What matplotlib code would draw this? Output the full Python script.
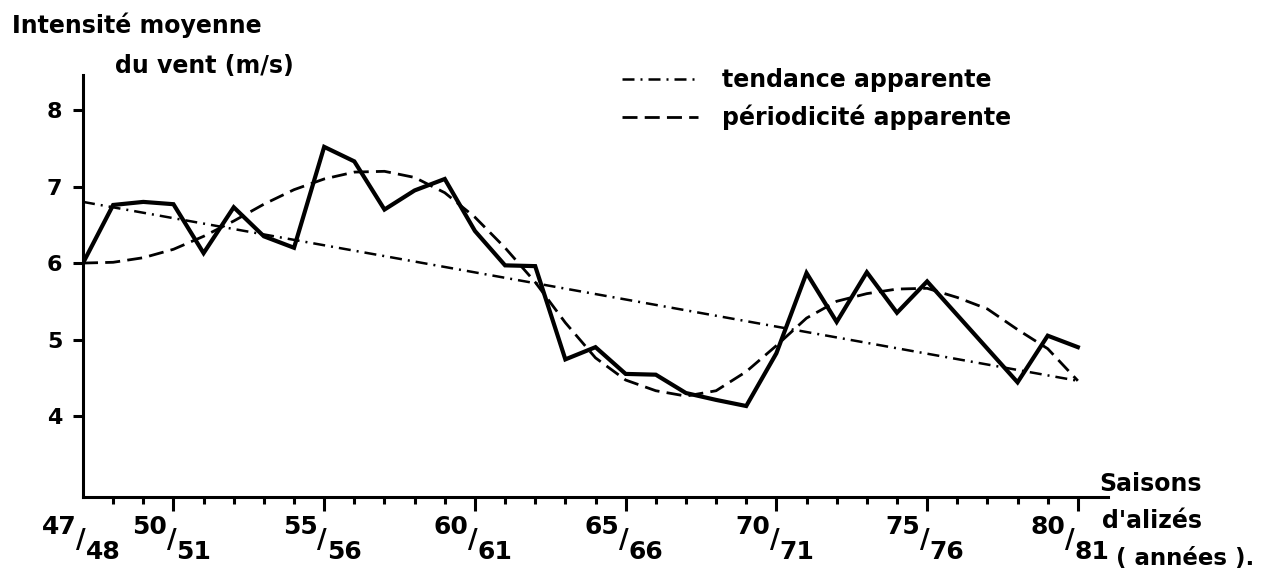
import matplotlib.pyplot as plt
from matplotlib.ticker import FixedLocator

plt.rcParams['font.family'] = 'DejaVu Sans'
plt.rcParams['font.weight'] = 'bold'

# Saisons d'alizés 1947/48 -> 1980/81
saisons = [f"{a % 100}/{(a + 1) % 100}" for a in range(1947, 1981)]

vent = [6.00, 6.76, 6.80, 6.77, 6.13, 6.73, 6.35, 6.20, 7.52, 7.33,
        6.70, 6.95, 7.10, 6.42, 5.97, 5.96, 4.74, 4.90, 4.55, 4.54,
        4.30, 4.21, 4.13, 4.82, 5.87, 5.23, 5.88, 5.35, 5.76, 5.32,
        4.88, 4.44, 5.05, 4.90]

# périodicité apparente (courbe tiretée)
periodicite = [6.00, 6.01, 6.07, 6.18, 6.35, 6.55, 6.77, 6.96, 7.10, 7.19,
               7.20, 7.12, 6.92, 6.60, 6.20, 5.75, 5.22, 4.76, 4.47, 4.33,
               4.26, 4.33, 4.58, 4.92, 5.28, 5.50, 5.60, 5.66, 5.67, 5.55,
               5.40, 5.13, 4.88, 4.46]

# tendance apparente (droite mixte)
tendance_x = [0, 33]
tendance = [6.80, 4.46]

yticks = [4, 5, 6, 7, 8]
labelled = ['47/48', '50/51', '55/56', '60/61', '65/66', '70/71', '75/76', '80/81']

x = list(range(len(saisons)))

fig = plt.figure(figsize=(12.68, 5.82), dpi=100)
ax = fig.add_axes([83 / 1268, 85 / 582, 1025 / 1268, 422 / 582])

ax.plot(x, vent, color='black', lw=3.0, solid_joinstyle='miter')
l_tend, = ax.plot(tendance_x, tendance, color='black', lw=1.8,
                  linestyle=(0, (4.8, 2.4, 0.8, 2.4)))
l_per, = ax.plot(x, periodicite, color='black', lw=2.0,
                 linestyle=(0, (5.4, 2.6)))

ax.set_xlim(0, 34)
ax.set_ylim(2.94, 8.46)

for s in ['top', 'right']:
    ax.spines[s].set_visible(False)
for s in ['left', 'bottom']:
    ax.spines[s].set_linewidth(2.2)

ax.set_yticks(yticks)
ax.set_yticklabels([str(v) for v in yticks], fontsize=16, fontweight='bold')
ax.tick_params(axis='y', direction='out', length=7, width=2.2, pad=8)

major = [saisons.index(l) for l in labelled]
minor = [i for i in x if i not in major and i != 0]
ax.xaxis.set_major_locator(FixedLocator([m for m in major if m != 0]))
ax.xaxis.set_minor_locator(FixedLocator(minor))
ax.set_xticklabels([])
ax.tick_params(axis='x', which='major', direction='out', length=10, width=2.2)
ax.tick_params(axis='x', which='minor', direction='out', length=5, width=2.2)

# étiquettes en fraction : 47/48 -> numérateur haut, dénominateur bas
tr = ax.get_xaxis_transform()
for lab in labelled:
    i = saisons.index(lab)
    num, den = lab.split('/')
    shift = -6 if lab == '80/81' else 0
    ax.annotate(num, xy=(i, 0), xycoords=tr, xytext=(-24 + shift, -30),
                textcoords='offset pixels', ha='center', va='center',
                fontsize=18, fontweight='bold', annotation_clip=False)
    ax.annotate('/', xy=(i, 0), xycoords=tr, xytext=(-2 + shift, -44),
                textcoords='offset pixels', ha='center', va='center',
                fontsize=19, fontweight='bold', annotation_clip=False)
    ax.annotate(den, xy=(i, 0), xycoords=tr, xytext=(20 + shift, -55),
                textcoords='offset pixels', ha='center', va='center',
                fontsize=18, fontweight='bold', annotation_clip=False)

W, H = 1268, 582
fig.text(12 / W, 1 - 33 / H, 'Intensité moyenne', fontsize=17,
         fontweight='bold', va='baseline', ha='left')
fig.text(115 / W, 1 - 73 / H, 'du vent (m/s)', fontsize=17,
         fontweight='bold', va='baseline', ha='left')

fig.text(1202 / W, 1 - 491 / H, 'Saisons', fontsize=17,
         fontweight='bold', va='baseline', ha='right')
fig.text(1202 / W, 1 - 528 / H, "d'alizés", fontsize=17,
         fontweight='bold', va='baseline', ha='right')
fig.text(1116 / W, 1 - 558 / H, '( années ).', fontsize=16.5,
         fontweight='bold', va='center', ha='left')

ax.legend([l_tend, l_per], ['tendance apparente', 'périodicité apparente'],
          loc='upper left', bbox_to_anchor=(622 / W, 1 - 68 / H),
          bbox_transform=fig.transFigure, frameon=False, fontsize=17,
          handlelength=3.2, handletextpad=1.05, labelspacing=0.55,
          borderpad=0, borderaxespad=0)

fig.savefig('out.png', dpi=100)
